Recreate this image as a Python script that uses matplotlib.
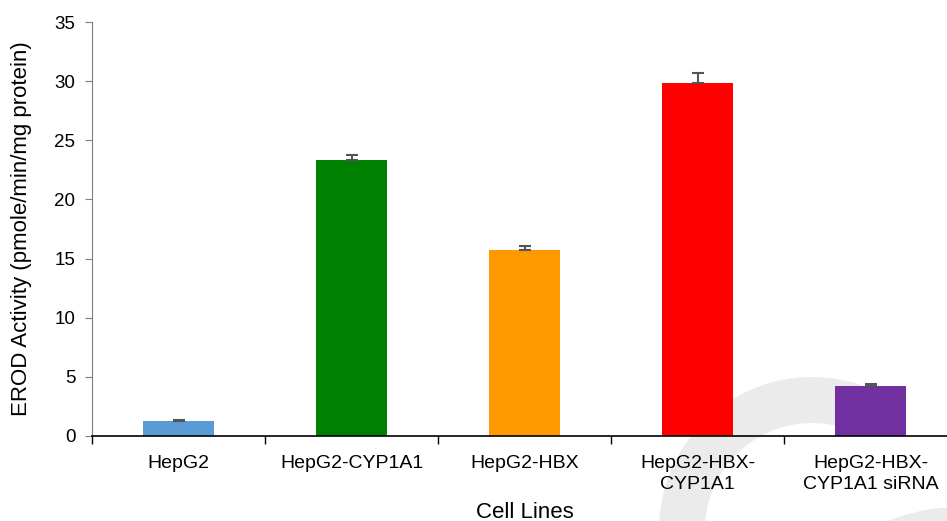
import matplotlib
matplotlib.use("Agg")
import matplotlib.pyplot as plt
from matplotlib.patches import Wedge, Circle

cell_lines = ["HepG2", "HepG2-CYP1A1", "HepG2-HBX", "HepG2-HBX-\nCYP1A1", "HepG2-HBX-\nCYP1A1 siRNA"]
erod = [1.27, 23.33, 15.72, 29.84, 4.23]
erod_err = [0.05, 0.45, 0.34, 0.88, 0.14]
bar_colors = ["#5b9bd5", "#008000", "#ff9900", "#ff0000", "#7030a0"]

plt.rcParams['font.family'] = ['Liberation Sans', 'DejaVu Sans']

W, H = 947, 521
fig = plt.figure(figsize=(W / 100, H / 100), dpi=100)

# faint watermark shapes in the background (pixel coords)
bg = fig.add_axes([0, 0, 1, 1], zorder=0)
bg.set_xlim(0, W)
bg.set_ylim(H, 0)
bg.axis("off")
bg.add_patch(Wedge((812, 530), 153, 160, 292, width=46, color="#ebebeb", lw=0))
bg.add_patch(Circle((960, 700), 193, color="#ebebeb", lw=0))

ax = fig.add_axes([92 / W, (H - 436) / H, 865 / W, 414 / H], zorder=1)
ax.patch.set_alpha(0)

x = list(range(len(cell_lines)))
ax.bar(x, erod, width=0.405, color=bar_colors, zorder=2)
ax.errorbar(x, erod, yerr=[[0] * len(erod), erod_err], fmt="none",
            ecolor="#555555", elinewidth=1.5, capsize=4, capthick=1.5, zorder=3)

ax.set_xlim(-0.5, len(cell_lines) - 0.5)
ax.set_ylim(0, 35)
ax.set_yticks(range(0, 36, 5))
ax.set_xticks(x)
ax.set_xticklabels(cell_lines, fontsize=14, linespacing=1.25)
ax.set_xticks([i - 0.5 for i in range(len(cell_lines))], minor=True)
ax.tick_params(axis="x", which="major", length=0, pad=14)
ax.tick_params(axis="x", which="minor", length=6, color="black", width=1)
ax.tick_params(axis="y", labelsize=13.5, length=5, color="#7f7f7f", pad=7)

for s in ["top", "right"]:
    ax.spines[s].set_visible(False)
ax.spines["left"].set_color("#7f7f7f")
ax.spines["bottom"].set_color("black")
ax.spines["bottom"].set_linewidth(1.2)

fig.text(22 / W, 1 - 229 / H, "EROD Activity (pmole/min/mg protein)", fontsize=16,
         rotation=90, ha="center", va="center")
fig.text((92 + 865 / 2) / W, 1 - 512 / H, "Cell Lines", fontsize=16,
         ha="center", va="center")

fig.savefig("out.png", dpi=100)
